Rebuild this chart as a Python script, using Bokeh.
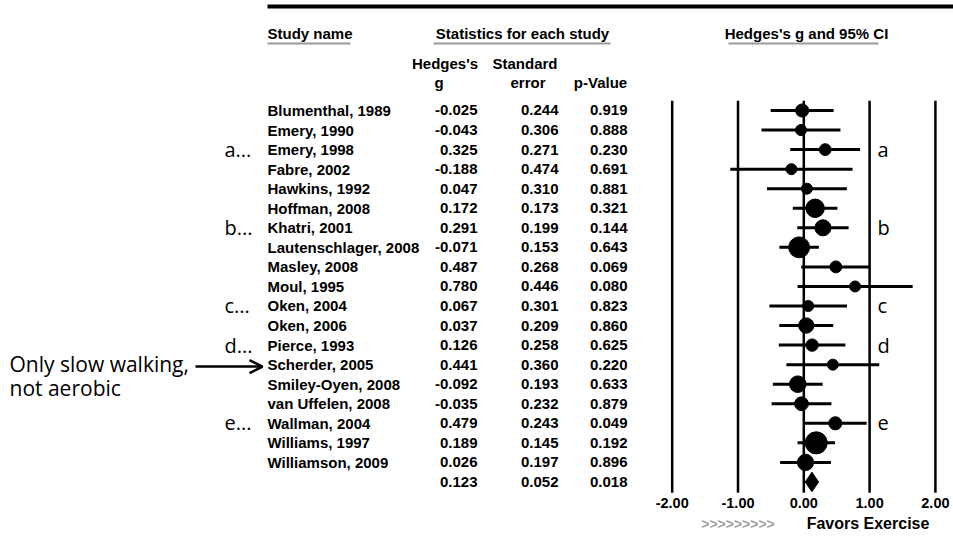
import numpy as np
from bokeh.plotting import figure
from bokeh.models import Range1d, ColumnDataSource, Arrow, OpenHead, Label
from bokeh.core.properties import value
from bokeh.embed import file_html
from bokeh.resources import INLINE

# ---------------- data ----------------
studies = ["Blumenthal, 1989", "Emery, 1990", "Emery, 1998", "Fabre, 2002",
           "Hawkins, 1992", "Hoffman, 2008", "Khatri, 2001", "Lautenschlager, 2008",
           "Masley, 2008", "Moul, 1995", "Oken, 2004", "Oken, 2006", "Pierce, 1993",
           "Scherder, 2005", "Smiley-Oyen, 2008", "van Uffelen, 2008", "Wallman, 2004",
           "Williams, 1997", "Williamson, 2009"]
hedges_g = [-0.025, -0.043, 0.325, -0.188, 0.047, 0.172, 0.291, -0.071, 0.487, 0.780,
            0.067, 0.037, 0.126, 0.441, -0.092, -0.035, 0.479, 0.189, 0.026]
std_err = [0.244, 0.306, 0.271, 0.474, 0.310, 0.173, 0.199, 0.153, 0.268, 0.446,
           0.301, 0.209, 0.258, 0.360, 0.193, 0.232, 0.243, 0.145, 0.197]
p_value = [0.919, 0.888, 0.230, 0.691, 0.881, 0.321, 0.144, 0.643, 0.069, 0.080,
           0.823, 0.860, 0.625, 0.220, 0.633, 0.879, 0.049, 0.192, 0.896]
pooled_g = 0.123
pooled_se = 0.052
pooled_p = 0.018

tick_values = [-2.0, -1.0, 0.0, 1.0, 2.0]
tick_labels = ["-2.00", "-1.00", "0.00", "1.00", "2.00"]

note_letters = ["a", "b", "c", "d", "e"]
note_studies = ["Emery, 1998", "Khatri, 2001", "Oken, 2004", "Pierce, 1993", "Wallman, 2004"]
arrow_study = "Scherder, 2005"
arrow_text = ["Only slow walking,", "not aerobic"]

# ---------------- figure ----------------
W, H = 953, 539
p = figure(width=W, height=H, x_range=Range1d(0, W), y_range=Range1d(H, 0),
           output_backend="svg", toolbar_location=None, min_border=0)
p.axis.visible = False
p.grid.visible = False
p.outline_line_color = None
p.extra_x_ranges = {"g": Range1d(-12.208, 2.275)}
p.extra_y_ranges = {"row": Range1d(21.944, -5.6266)}

FONT = value("Liberation Sans")
NOTE_FONT = value("Open Sans")
TS = value("15px")

n = len(studies)
rows = list(range(n))
ga = np.array(hedges_g)
sa = np.array(std_err)
src = ColumnDataSource(dict(
    row=rows + [n],
    name=studies + [""],
    g_txt=[f"{v:.3f}" for v in hedges_g] + [f"{pooled_g:.3f}"],
    se_txt=[f"{v:.3f}" for v in std_err] + [f"{pooled_se:.3f}"],
    p_txt=[f"{v:.3f}" for v in p_value] + [f"{pooled_p:.3f}"],
))
common = dict(y="row", source=src, y_range_name="row", text_font=FONT,
              text_font_size=TS, text_font_style="bold",
              text_baseline="middle", text_color="black")
p.text(x=267, text="name", text_align="left", **common)
p.text(x=477, text="g_txt", text_align="right", **common)
p.text(x=558, text="se_txt", text_align="right", **common)
p.text(x=627, text="p_txt", text_align="right", **common)

# headers
def hdr(x, y, t, align="center", size="15px", color="black"):
    p.add_layout(Label(x=x, y=y, text=t, text_align=align, text_baseline="middle",
                       text_font="Liberation Sans", text_font_size=size,
                       text_font_style="bold", text_color=color))

hdr(267, 33, "Study name", "left")
hdr(522, 33, "Statistics for each study")
hdr(806, 33, "Hedges's g and 95% CI")
hdr(444.5, 63, "Hedges's")
hdr(438.5, 82, "g")
hdr(524.5, 63, "Standard")
hdr(527.5, 82, "error")
hdr(600, 82, "p-Value")

p.segment(x0=[267, 433, 728], x1=[350, 610, 878], y0=[43, 43, 43], y1=[43, 43, 43],
          line_color="#9a9a9a", line_width=2)
p.segment(x0=[267], x1=[W], y0=[6], y1=[6], line_color="black", line_width=4)

# forest plot
p.segment(x0=tick_values, x1=tick_values, y0=[-0.5] * 5, y1=[19.55] * 5,
          x_range_name="g", y_range_name="row", line_color="black", line_width=2.5)
p.segment(x0=list(ga - 1.96 * sa), x1=list(ga + 1.96 * sa), y0=rows, y1=rows,
          x_range_name="g", y_range_name="row", line_color="black", line_width=3)
p.scatter(x=hedges_g, y=rows, size=list(np.maximum(11, 3.2 / sa)), marker="circle",
          x_range_name="g", y_range_name="row", fill_color="black", line_color="black")
lo, hi = pooled_g - 1.96 * pooled_se, pooled_g + 1.96 * pooled_se
p.patch(x=[lo, pooled_g, hi, pooled_g], y=[n, n - 0.5, n, n + 0.5],
        x_range_name="g", y_range_name="row", fill_color="black", line_color="black")

p.text(x=tick_values, y=[20.1] * 5, text=tick_labels, x_range_name="g", y_range_name="row",
       text_font=FONT, text_font_size=value("14.5px"), text_font_style="bold",
       text_align="center", text_baseline="middle")

hdr(737.5, 523, ">>>>>>>>>", size="14px", color="#a0a0a0")
hdr(867.5, 523, "Favors Exercise", size="16px")

# notes
note_rows = [studies.index(s) for s in note_studies]
p.text(x=[224] * 5, y=note_rows, text=[l + "..." for l in note_letters], y_range_name="row",
       text_font=NOTE_FONT, text_font_size=value("20px"), text_align="left",
       text_baseline="middle")
p.text(x=[877] * 5, y=note_rows, text=note_letters, y_range_name="row",
       text_font=NOTE_FONT, text_font_size=value("20px"), text_align="left",
       text_baseline="middle")

ar = studies.index(arrow_study)
p.text(x=[9, 9], y=[ar - 0.05, ar + 1.2], text=arrow_text, y_range_name="row",
       text_font=NOTE_FONT, text_font_size=value("21px"), text_align="left",
       text_baseline="middle")
p.add_layout(Arrow(x_start=195, x_end=262, y_start=ar + 0.1, y_end=ar + 0.1,
                   y_range_name="row", line_width=2.5,
                   end=OpenHead(size=13, line_width=2.5)))

open("out.html", "w").write(file_html(p, INLINE))
